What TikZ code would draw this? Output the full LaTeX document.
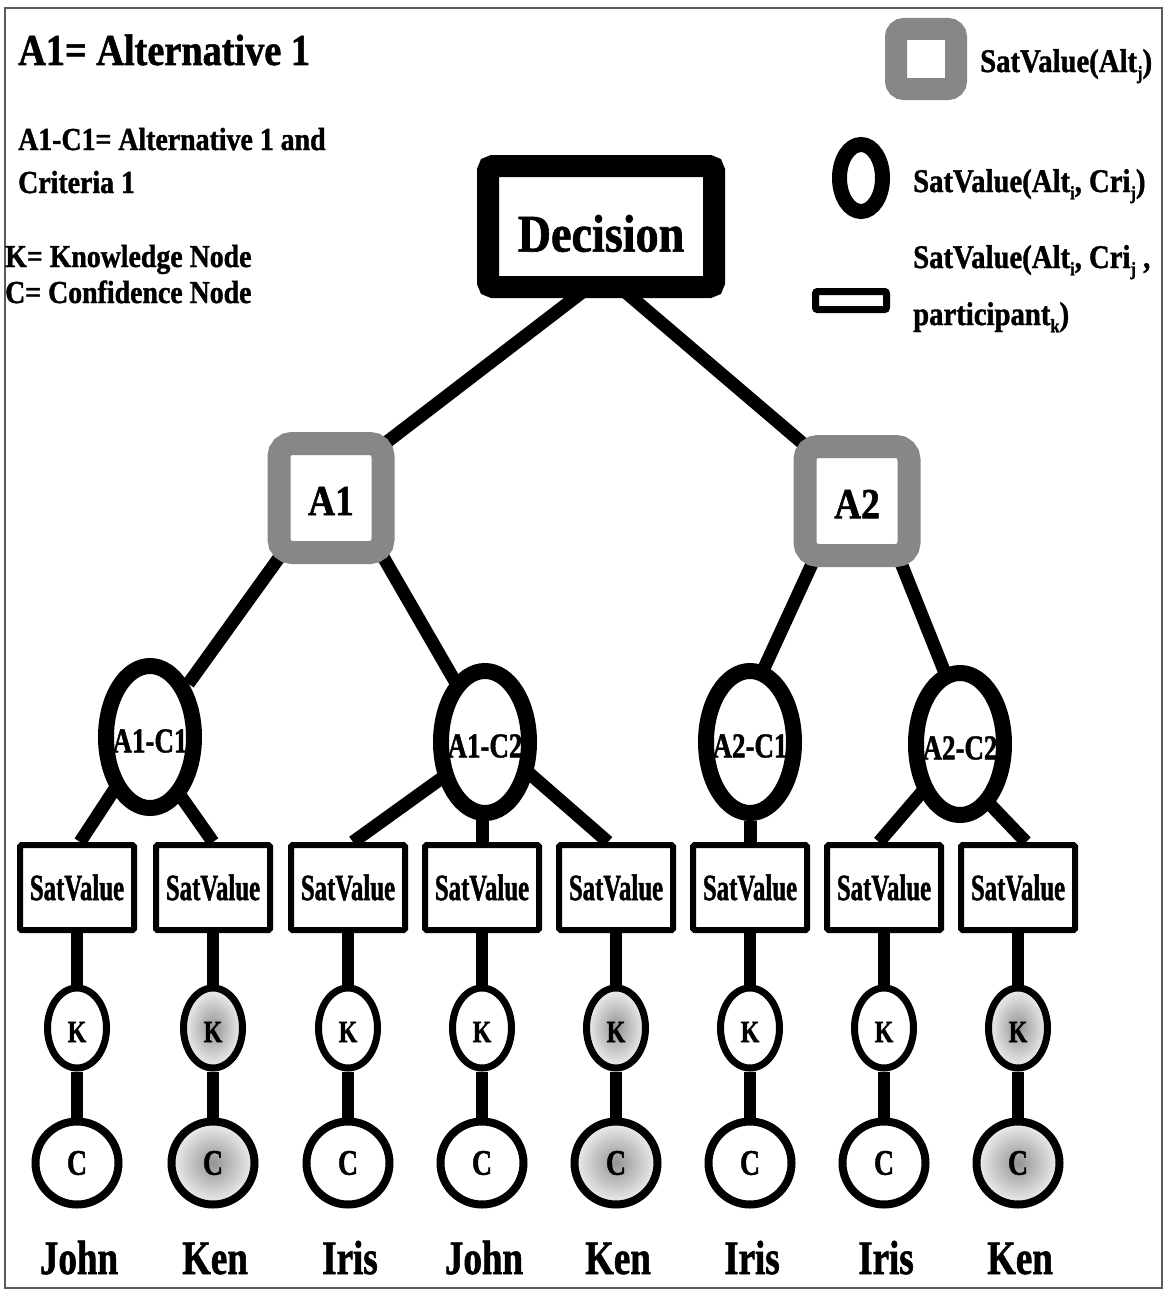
\documentclass[tikz,border=0pt]{standalone}
\usepackage{fontspec}
\setmainfont{Liberation Serif}
\newfontfamily\fA[FakeStretch=0.87,FakeBold=1.2]{Liberation Serif}
\newfontfamily\fB[FakeStretch=0.77,FakeBold=1.2]{Liberation Serif}
\newfontfamily\fC[FakeStretch=0.67,FakeBold=1.2]{Liberation Serif}
\usetikzlibrary{calc,shapes.geometric}
\newcommand\fsz[1]{\fontsize{#1}{#1}\selectfont}
\newcommand\sbs[1]{\raisebox{-0.22em}{\fsz{19}#1}}
\definecolor{ringgray}{RGB}{135,135,135}
\definecolor{framegray}{RGB}{90,90,90}
\pgfdeclarelayer{bg}
\pgfsetlayers{bg,main}
\tikzset{
  decbox/.style={rectangle, draw=black, line width=22pt, rounded corners=5pt, fill=white,
    minimum width=226pt, minimum height=121pt, inner sep=0pt},
  altbox/.style={rectangle, draw=ringgray, line width=23pt, rounded corners=13pt, fill=white,
    minimum width=104pt, minimum height=109pt, inner sep=0pt},
  critell/.style={ellipse, draw=black, line width=16pt, fill=white,
    minimum width=88pt, minimum height=142pt, inner sep=0pt},
  satbox/.style={rectangle, draw=black, line width=6pt, fill=white, rounded corners=1.5pt,
    minimum width=114pt, minimum height=85pt, inner sep=0pt, font=\fC\bfseries\fsz{37}},
  knode/.style={ellipse, draw=black, line width=7pt, fill=white,
    minimum width=59pt, minimum height=80pt, inner sep=0pt},
  cnode/.style={circle, draw=black, line width=8pt, fill=white,
    minimum size=83pt, inner sep=0pt},
  known/.style={shading=radial, inner color=black!42, outer color=black!6},
  bigtxt/.style={font=\fA\bfseries\fsz{53}, inner sep=0pt, yshift=-7pt},
  alttxt/.style={font=\fA\bfseries\fsz{43}, inner sep=0pt, yshift=-3pt},
  crittxt/.style={font=\fB\bfseries\fsz{35}, inner sep=0pt, yshift=-4pt},
  ktxt/.style={font=\fB\bfseries\fsz{31}, inner sep=0pt, yshift=-4pt},
  ctxt/.style={font=\fB\bfseries\fsz{36}, inner sep=0pt},
  person/.style={font=\fB\bfseries\fsz{48}, inner sep=0pt, anchor=base},
  legtxt/.style={font=\fA\bfseries\fsz{33}, inner sep=0pt, anchor=base west},
  link/.style={line width=13pt},
  stem/.style={line width=12pt}
}
\begin{document}
\begin{tikzpicture}[x=1pt,y=-1pt]
\useasboundingbox (0,0) rectangle (1167,1290);
% outer frame
\draw[framegray, line width=1.3pt] (5,8) rectangle (1162,1288);

% left legend
\node[font=\fA\bfseries\fsz{44}, inner sep=0pt, anchor=base west] (defA) at (18,65) {A1= Alternative 1};
\node[font=\fA\bfseries\fsz{32}, inner sep=0pt, anchor=base west] (defAC) at (18,150) {A1-C1= Alternative 1 and};
\node[font=\fA\bfseries\fsz{32}, inner sep=0pt, anchor=base west] (defAC2) at (18,193) {Criteria 1};
\node[font=\fA\bfseries\fsz{32}, inner sep=0pt, anchor=base west] (defK) at (5,267) {K= Knowledge Node};
\node[font=\fA\bfseries\fsz{32}, inner sep=0pt, anchor=base west] (defC) at (5,303) {C= Confidence Node};

% right legend
\node[rectangle, draw=ringgray, line width=22pt, rounded corners=8pt, fill=white,
  minimum size=60pt, inner sep=0pt] (lgAlt) at (926,59) {};
\node[legtxt] (lgAltT) at (980,72) {SatValue(Alt\sbs{j})};
\node[ellipse, draw=black, line width=15pt, fill=white, minimum width=43pt,
  minimum height=67pt, inner sep=0pt] (lgCri) at (861,178) {};
\node[legtxt] (lgCriT) at (913,192) {SatValue(Alt\sbs{i}, Cri\sbs{j})};
\node[rectangle, draw=black, line width=7pt, rounded corners=2pt, fill=white,
  minimum width=71pt, minimum height=18pt, inner sep=0pt] (lgPart) at (851,300.5) {};
\node[legtxt] (lgPartT) at (913,268) {SatValue(Alt\sbs{i}, Cri\sbs{j} ,};
\node[legtxt] (lgPartT2) at (913,325) {participant\sbs{k})};

% decision tree
\node[decbox, label={[bigtxt]center:Decision}] (dec) at (601,226.5) {};
\node[altbox, label={[alttxt]center:A1}] (A1) at (331,498) {};
\node[altbox, label={[alttxt]center:A2}] (A2) at (857,501) {};

\node[critell, label={[crittxt]center:A1-C1}] (A1C1) at (150,737) {};
\node[critell, label={[crittxt]center:A1-C2}] (A1C2) at (485,742) {};
\node[critell, label={[crittxt]center:A2-C1}] (A2C1) at (750,742) {};
\node[critell, label={[crittxt]center:A2-C2}] (A2C2) at (960,744) {};

% participant columns
\foreach \i/\x/\who/\sh in {1/77/John/0, 2/213/Ken/1, 3/348/Iris/0, 4/482/John/0,
                            5/616/Ken/1, 6/750/Iris/0, 7/884/Iris/0, 8/1018/Ken/1} {
  \node[satbox] (s\i) at (\x,887.5) {SatValue};
  \ifnum\sh=1
    \node[knode, known, label={[ktxt]center:K}] (k\i) at (\x,1028) {};
    \node[cnode, known, label={[ctxt]center:C}] (c\i) at (\x,1163) {};
  \else
    \node[knode, label={[ktxt]center:K}] (k\i) at (\x,1028) {};
    \node[cnode, label={[ctxt]center:C}] (c\i) at (\x,1163) {};
  \fi
  \node[person] (p\i) at ($(c\i)+(2,111)$) {\who};
}

\begin{pgfonlayer}{bg}
  % decision to alternatives
  \draw[link] ($(dec)+(-16,63.5)$) -- ($(A1)+(41.5,-45)$);
  \draw[link] ($(dec)+(22,63.5)$) -- ($(A2)+(-40.6,-46)$);
  % alternatives to criteria
  \draw[link] ($(A1)+(-50,57)$) -- (A1C1);
  \draw[link] ($(A1)+(51,57)$) -- ($(A1C2)+(-25,-52)$);
  \draw[link] ($(A2)+(-40,52)$) -- ($(A2C1)+(10,-65)$);
  \draw[link] ($(A2)+(40,52)$) -- ($(A2C2)+(-13,-66)$);
  % criteria to participant values
  \draw[link] ($(A1C1)+(-30,44)$) -- ($(s1.north)+(3,0)$);
  \draw[link] ($(A1C1)+(25,51)$) -- (s2.north);
  \draw[link] ($(A1C2)+(-32,28)$) -- ($(s3.north)+(5,0)$);
  \draw[link] ($(A1C2)+(-3,0)$) -- (s4.north);
  \draw[link] ($(A1C2)+(37,25)$) -- ($(s5.north)+(-8,0)$);
  \draw[link] (A2C1) -- (s6.north);
  \draw[link] ($(A2C2)+(-32,41)$) -- ($(s7.north)+(-5,0)$);
  \draw[link] ($(A2C2)+(23,53)$) -- ($(s8.north)+(8,0)$);
  % knowledge and confidence stems
  \foreach \i in {1,...,8} {
    \draw[stem] (s\i) -- (k\i);
    \draw[stem] (k\i) -- (c\i);
  }
\end{pgfonlayer}
\end{tikzpicture}
\end{document}
